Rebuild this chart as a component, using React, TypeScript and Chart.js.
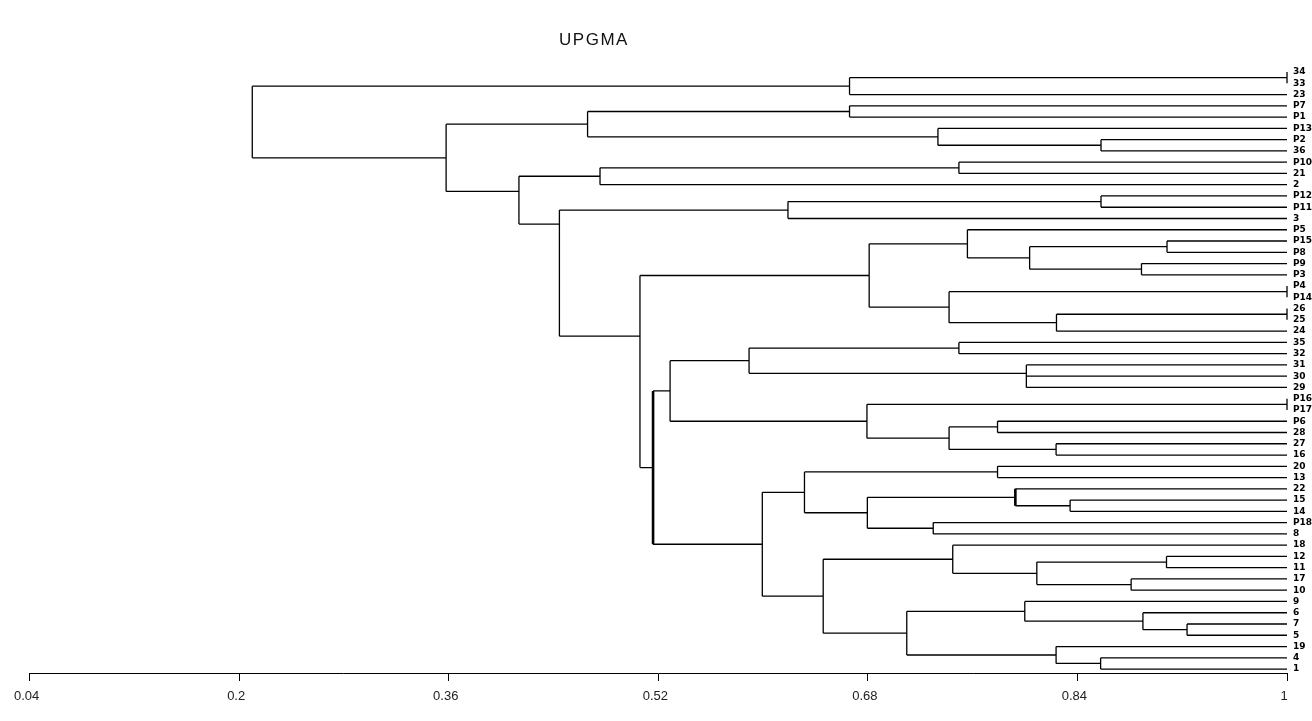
import React, { useEffect, useRef } from 'react';
import { Chart, registerables } from 'chart.js';

Chart.register(...registerables);

// ---------- data ----------
const titleText = 'UPGMA';

// leaves, top to bottom
const leafLabels: string[] = [
  '34', '33', '23', 'P7', 'P1', 'P13', 'P2', '36', 'P10', '21',
  '2', 'P12', 'P11', '3', 'P5', 'P15', 'P8', 'P9', 'P3', 'P4',
  'P14', '26', '25', '24', '35', '32', '31', '30', '29', 'P16',
  'P17', 'P6', '28', '27', '16', '20', '13', '22', '15', '14',
  'P18', '8', '18', '12', '11', '17', '10', '9', '6', '7',
  '5', '19', '4', '1',
];

// similarity axis ticks
const xTicks: number[] = [0.04, 0.2, 0.36, 0.52, 0.68, 0.84, 1];

// clusters: [name, members, similarity at which they join]
const clusters: [string, string[], number][] = [
  ['a1', ['34', '33'], 1.0],
  ['A', ['a1', '23'], 0.666],
  ['b1', ['P7', 'P1'], 0.666],
  ['b2', ['P2', '36'], 0.858],
  ['b3', ['P13', 'b2'], 0.7335],
  ['B1', ['b1', 'b3'], 0.466],
  ['c1', ['P10', '21'], 0.7495],
  ['C1', ['c1', '2'], 0.4755],
  ['d1', ['P12', 'P11'], 0.858],
  ['D1', ['d1', '3'], 0.619],
  ['e1', ['P15', 'P8'], 0.9084],
  ['e2', ['P9', 'P3'], 0.8889],
  ['e3', ['e1', 'e2'], 0.8035],
  ['E1a', ['P5', 'e3'], 0.756],
  ['f1', ['P4', 'P14'], 1.0],
  ['g1', ['26', '25'], 1.0],
  ['G', ['g1', '24'], 0.824],
  ['F', ['f1', 'G'], 0.742],
  ['E1', ['E1a', 'F'], 0.681],
  ['i1', ['35', '32'], 0.7495],
  ['i2', ['30', '29'], 0.801],
  ['i3', ['31', 'i2'], 0.801],
  ['I1', ['i1', 'i3'], 0.5893],
  ['j1', ['P16', 'P17'], 1.0],
  ['k1', ['P6', '28'], 0.779],
  ['k2', ['27', '16'], 0.8237],
  ['K', ['k1', 'k2'], 0.742],
  ['J', ['j1', 'K'], 0.6793],
  ['H1', ['I1', 'J'], 0.529],
  ['m1', ['20', '13'], 0.779],
  ['o1', ['15', '14'], 0.8344],
  ['O', ['22', 'o1'], 0.7926],
  ['n1', ['P18', '8'], 0.7299],
  ['N', ['O', 'n1'], 0.6796],
  ['M', ['m1', 'N'], 0.6316],
  ['r1', ['12', '11'], 0.908],
  ['r2', ['17', '10'], 0.881],
  ['R', ['r1', 'r2'], 0.809],
  ['Q', ['18', 'R'], 0.7448],
  ['u1', ['7', '5'], 0.9237],
  ['U', ['6', 'u1'], 0.89],
  ['T', ['9', 'U'], 0.7998],
  ['w1', ['4', '1'], 0.8577],
  ['V', ['19', 'w1'], 0.8237],
  ['S', ['T', 'V'], 0.7097],
  ['P', ['Q', 'S'], 0.6459],
  ['L', ['M', 'P'], 0.5994],
  ['E2', ['H1', 'L'], 0.516],
  ['D2', ['E1', 'E2'], 0.506],
  ['C2', ['D1', 'D2'], 0.4445],
  ['B2', ['C1', 'C2'], 0.4136],
  ['B', ['B1', 'B2'], 0.358],
  ['root', ['A', 'B'], 0.21],
];

// rows (in leaf units) where the reference draws a few links off-centre
const drawnRows: Record<string, number> = { C2: 13.5, D2: 23.45, B2: 10.6 };

// links drawn doubled (heavier) in the reference
const doubledLinks: string[] = ['E2', 'O'];

// ---------- build segments ----------
type Pt = { x: number; y: number };

function buildSegments() {
  const row: Record<string, number> = {};
  const sim: Record<string, number> = {};
  leafLabels.forEach((l, i) => {
    row[l] = i;
    sim[l] = 1;
  });
  const normal: Pt[] = [];
  const heavy: Pt[] = [];
  const gap: Pt = { x: NaN, y: NaN };
  for (const [name, kids, s] of clusters) {
    const rows = kids.map((k) => row[k]);
    const lo = Math.min(...rows);
    const hi = Math.max(...rows);
    row[name] = drawnRows[name] ?? (lo + hi) / 2;
    sim[name] = s;
    const vert = doubledLinks.includes(name) ? heavy : normal;
    vert.push({ x: s, y: lo }, { x: s, y: hi }, gap);
    for (const k of kids) {
      normal.push({ x: s, y: row[k] }, { x: sim[k], y: row[k] }, gap);
    }
  }
  return { normal, heavy };
}

const titlePlugin = {
  id: 'upgmaTitle',
  afterDraw(chart: any) {
    const ctx = chart.ctx as CanvasRenderingContext2D;
    ctx.save();
    ctx.font = '17px "Liberation Sans", Arial, sans-serif';
    (ctx as any).letterSpacing = '1.5px';
    ctx.fillStyle = '#111';
    ctx.textAlign = 'center';
    ctx.textBaseline = 'middle';
    ctx.fillText(titleText, 594, 40);
    ctx.restore();
  },
};

export default function App() {
  const ref = useRef<HTMLCanvasElement | null>(null);

  useEffect(() => {
    if (!ref.current) return;
    const { normal, heavy } = buildSegments();
    const chart = new Chart(ref.current, {
      type: 'scatter',
      data: {
        datasets: [
          {
            data: normal,
            showLine: true,
            spanGaps: false,
            borderColor: '#000',
            borderWidth: 1.3,
            pointRadius: 0,
            clip: false as any,
          },
          {
            data: heavy,
            showLine: true,
            spanGaps: false,
            borderColor: '#000',
            borderWidth: 2.6,
            pointRadius: 0,
            clip: false as any,
          },
        ],
      },
      options: {
        animation: false,
        responsive: false,
        events: [],
        layout: { padding: { left: 29.6, right: 0, top: 27, bottom: 0 } },
        plugins: {
          legend: { display: false },
          tooltip: { enabled: false },
          title: { display: false },
        },
        scales: {
          x: {
            type: 'linear',
            position: 'bottom',
            min: 0.04,
            max: 1,
            afterBuildTicks: (s: any) => {
              s.ticks = xTicks.map((v) => ({ value: v }));
            },
            afterFit: (s: any) => {
              s.height = 48;
            },
            grid: {
              display: true,
              drawOnChartArea: false,
              drawTicks: true,
              tickLength: 8,
              color: '#000',
              lineWidth: 1,
            },
            border: { display: true, color: '#000', width: 1 },
            ticks: {
              color: '#222',
              autoSkip: false,
              maxRotation: 0,
              padding: 8,
              labelOffset: -3,
              font: { family: '"Liberation Sans", Arial, sans-serif', size: 13 },
              callback: (v: any) => String(Number(Number(v).toFixed(2))),
            },
          },
          y: {
            type: 'linear',
            position: 'right',
            reverse: true,
            min: -4,
            max: 53.35,
            afterBuildTicks: (s: any) => {
              s.ticks = leafLabels.map((_, i) => ({ value: i }));
            },
            afterFit: (s: any) => {
              s.width = 25;
            },
            grid: { display: false, drawTicks: false },
            border: { display: false },
            ticks: {
              autoSkip: false,
              padding: 6,
              color: '#000',
              font: { family: '"DejaVu Sans", sans-serif', size: 9, weight: 'bold' },
              callback: (v: any) => leafLabels[Math.round(Number(v))] ?? '',
            },
          },
        },
      },
      plugins: [titlePlugin],
    });
    return () => chart.destroy();
  }, []);

  return (
    <div
      style={{
        position: 'fixed',
        left: 0,
        top: 0,
        width: 1312,
        height: 721,
        background: '#fff',
        overflow: 'hidden',
      }}
    >
      <canvas ref={ref} width={1312} height={721} style={{ width: 1312, height: 721, display: 'block' }} />
    </div>
  );
}
